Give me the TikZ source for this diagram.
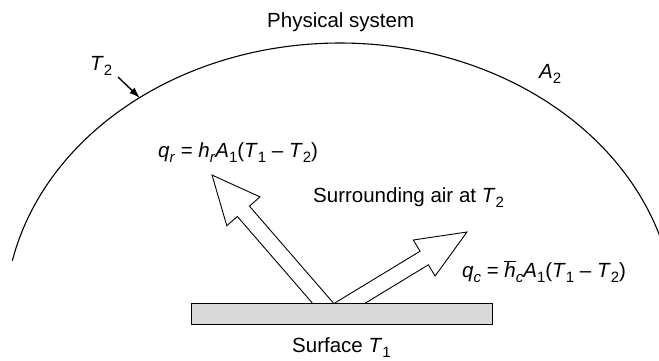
\documentclass[tikz,border=0pt]{standalone}
\usepackage{fontspec}
\setmainfont{Liberation Sans}
\usetikzlibrary{arrows.meta}
\newcommand\lsub[1]{\raisebox{-5pt}{\fontsize{15}{15}\selectfont #1}}
\newcommand\hbarit{$\overline{\mbox{\textit{h}}}$}
\begin{document}
\begin{tikzpicture}[x=1pt,y=-1pt,
  lbl/.style={anchor=base west, inner sep=0pt, font=\fontsize{20.5}{24}\selectfont},
  outline/.style={line width=0.9pt, line join=miter},
  dome/.style={line width=1.1pt}]
\useasboundingbox (0,0) rectangle (659,360);
\begin{scope}
  \clip (0,0) rectangle (659,360);
  \draw[dome] plot[domain=-168:-14, samples=150, smooth] ({340+335*cos(\x)},{318+275*sin(\x)});
\end{scope}
% surface
\draw[outline, fill=black!15] (191,303) rectangle (492,324);
% radiation arrow
\draw[outline] (312.3,303) -- (237.4,216.5) -- (226.8,225.7) -- (212,175) -- (260,196.9) -- (249.4,206.1) -- (333.4,303);
% convection arrow
\draw[outline] (334.8,303) -- (420.1,251.2) -- (413.3,240.0) -- (467,232) -- (435.1,276.0) -- (428.4,264.8) -- (365.5,303);
% T2 pointer
\coordinate (pstart) at (118,77);
\coordinate (ptip) at (140,98);
\draw[line width=1.4pt, -{Latex[length=11pt,width=7.5pt]}] (pstart) -- (ptip);
% labels
\node[lbl] (phys) at (267,27) {Physical system};
\node[lbl] (t2) at (90,70) {\textit{T}\lsub{2}};
\node[lbl] (a2) at (539,78) {\textit{A}\lsub{2}};
\node[lbl] (qr) at (158,157) {\textit{q}\lsub{\textit{r}} = \textit{h}\lsub{\textit{r}}\textit{A}\lsub{1}(\textit{T}\lsub{1} – \textit{T}\lsub{2})};
\node[lbl] (air) at (313,202) {Surrounding air at \textit{T}\lsub{2}};
\node[lbl] (qc) at (462,277) {\textit{q}\lsub{\textit{c}} = \hbarit\lsub{\textit{c}}\textit{A}\lsub{1}(\textit{T}\lsub{1} – \textit{T}\lsub{2})};
\node[lbl] (surf) at (292,352) {Surface \textit{T}\lsub{1}};
\end{tikzpicture}
\end{document}
